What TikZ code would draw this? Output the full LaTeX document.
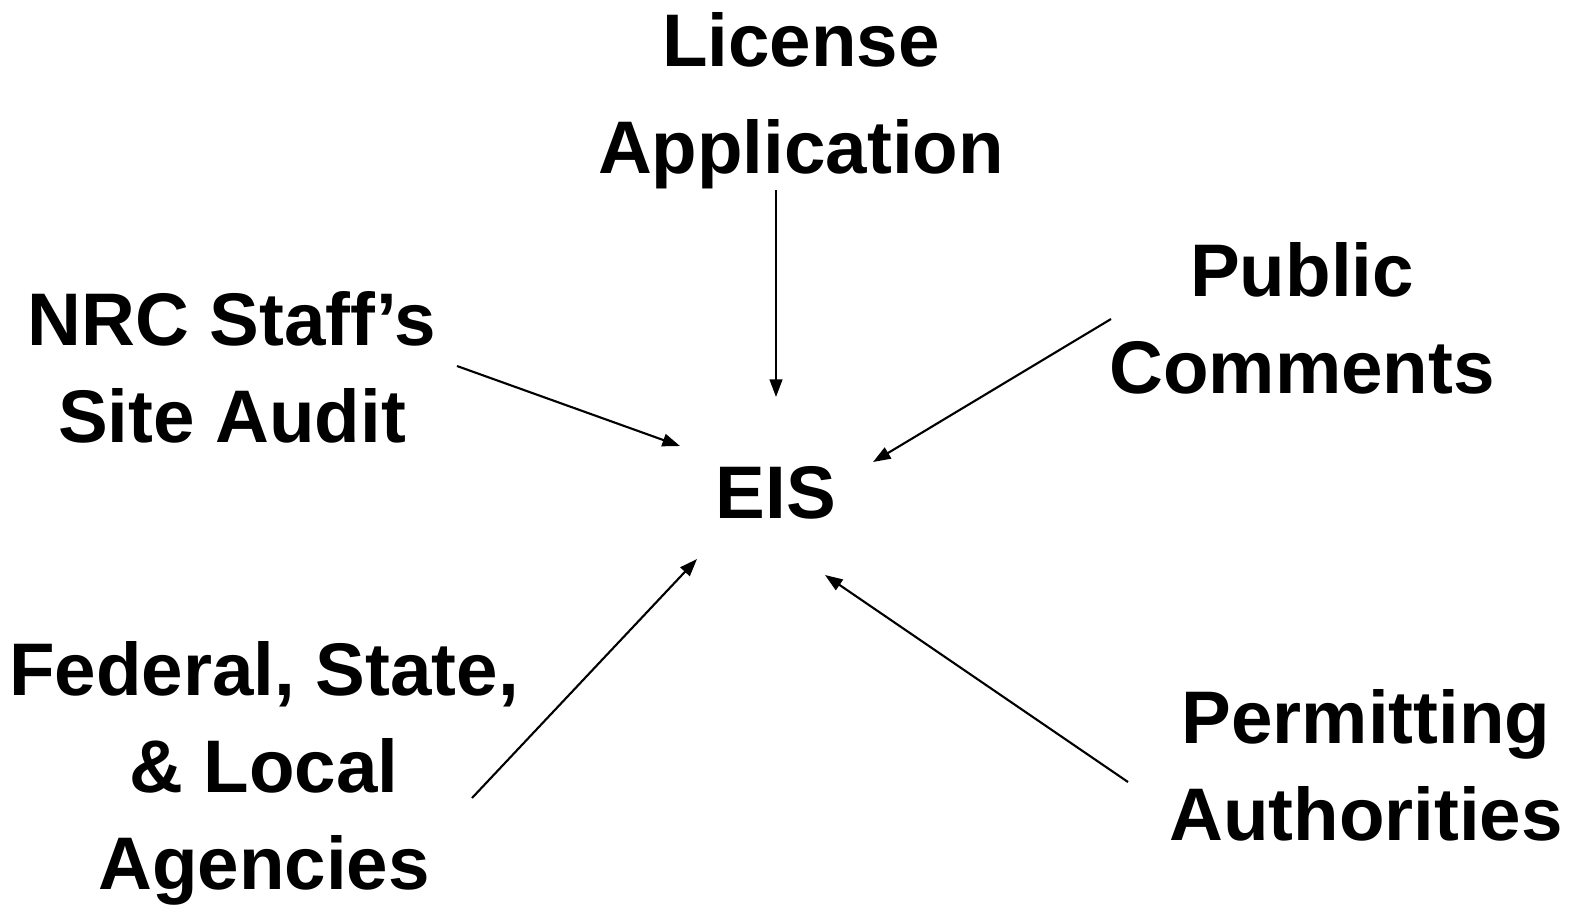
\documentclass[tikz,border=0pt]{standalone}
\usepackage{fontspec}
\setmainfont{Liberation Sans}
\usetikzlibrary{arrows.meta}

\tikzset{
  lbl/.style={font=\bfseries\fontsize{21.2}{27.5}\selectfont, align=center, inner sep=0pt, anchor=north},
  feed/.style={->, line width=0.6pt},
}

\begin{document}
\begin{tikzpicture}[x=0.01cm, y=-0.01cm, >={Triangle[length=5pt,width=3.6pt]}]
\useasboundingbox (0,0) rectangle (1570,908);

%%%%%%%%%%%% Sources
\node[lbl] (lic) at (801,12) {License\\[3pt]Application};
\node[lbl] (nrc) at (232,291) {NRC Staff’s\\Site Audit};
\node[lbl] (pub) at (1302,242) {Public\\Comments};
\node[lbl] (fed) at (264,641) {Federal, State,\\\& Local\\Agencies};
\node[lbl] (per) at (1366,689) {Permitting\\Authorities};

%%%%%%%%%%%% Centre
\node[lbl] (eis) at (776,466) {EIS};

%%%%%%%%%%%% Arrow ends
\coordinate (lic-out) at (776,190);  \coordinate (eis-n)  at (776,397);
\coordinate (nrc-out) at (457,366);  \coordinate (eis-nw) at (680,446);
\coordinate (pub-out) at (1111,319); \coordinate (eis-ne) at (873,462);
\coordinate (fed-out) at (472,798);  \coordinate (eis-sw) at (697,559);
\coordinate (per-out) at (1128,782); \coordinate (eis-se) at (825,575);

\foreach \from / \to in {lic-out/eis-n, nrc-out/eis-nw, pub-out/eis-ne, fed-out/eis-sw, per-out/eis-se}
  \draw[feed] (\from) -- (\to);
\end{tikzpicture}
\end{document}
